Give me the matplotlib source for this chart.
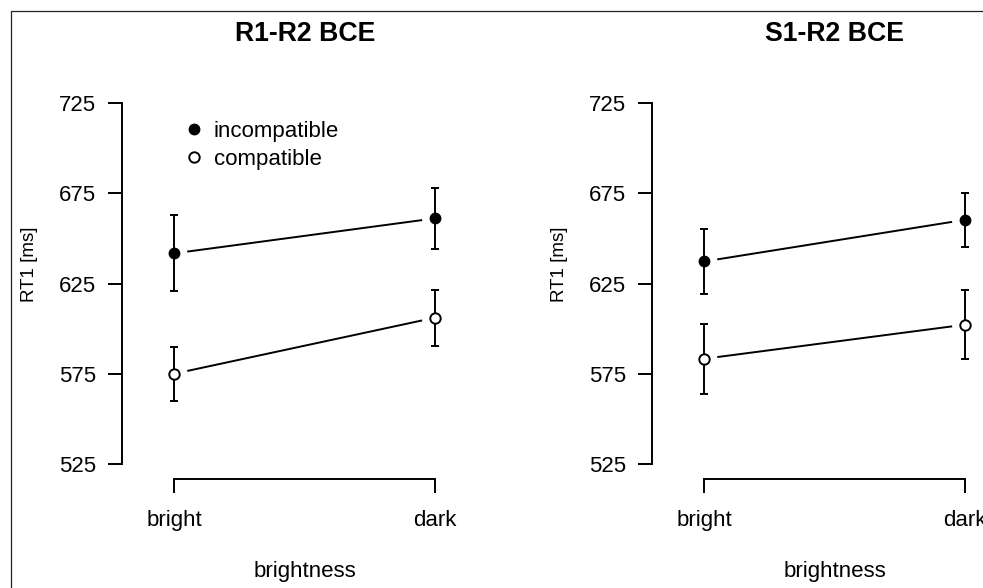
import numpy as np
import matplotlib.pyplot as plt
from matplotlib.lines import Line2D
from matplotlib.patches import Rectangle

plt.rcParams['font.family'] = ['Liberation Sans', 'DejaVu Sans']

levels = ['bright', 'dark']
titles = ['R1-R2 BCE', 'S1-R2 BCE']
yticks = [525, 575, 625, 675, 725]

# mean RT1 and error (half-length of bar), per panel
incomp_mean = [[641.7, 661.1], [637.2, 660.3]]
incomp_err = [[21.0, 17.0], [18.0, 15.0]]
comp_mean = [[575.0, 606.1], [583.3, 602.2]]
comp_err = [[15.0, 15.5], [19.5, 19.0]]

W, H = 983, 588
fig = plt.figure(figsize=(W / 100, H / 100), dpi=100)

# outer frame (partially visible, cropped figure)
fig.patches.append(Rectangle((11 / W, -0.1), 1.2, 1.1 - 11 / H, transform=fig.transFigure,
                             fill=False, edgecolor='#222222', linewidth=0.9))

LW = 1.4
FS = 16
x = np.array([1, 2])


def gap_line(ax, xs, ys, frac=0.05):
    # type="b" style: line stops short of the points
    dx = xs[1] - xs[0]
    dy = ys[1] - ys[0]
    ax.plot([xs[0] + frac * dx, xs[1] - frac * dx], [ys[0] + frac * dy, ys[1] - frac * dy],
            color='black', lw=LW, solid_capstyle='butt')


for i, left_px in enumerate([122, 652]):
    ax_w = 365.4
    bottom_px = 479
    top_px = 60
    ax = fig.add_axes([left_px / W, (H - bottom_px) / H, ax_w / W, (bottom_px - top_px) / H])
    # y scale: 725 at 103px, 525 at 464px
    ppu = (464 - 103) / 200
    ax.set_ylim(525 - (bottom_px - 464) / ppu, 725 + (103 - top_px) / ppu)
    ax.set_xlim(0.8, 2.2)
    ax.patch.set_visible(False)

    for s in ['top', 'right']:
        ax.spines[s].set_visible(False)
    ax.spines['left'].set_bounds(525, 725)
    ax.spines['bottom'].set_bounds(1, 2)
    for s in ['left', 'bottom']:
        ax.spines[s].set_linewidth(LW)

    ax.set_yticks(yticks)
    ax.set_xticks(x)
    ax.set_xticklabels(levels)
    ax.tick_params(axis='y', length=10, width=LW, labelsize=FS, pad=8.5)
    ax.tick_params(axis='x', length=10, width=LW, labelsize=FS, pad=12.5)

    gap_line(ax, x, incomp_mean[i])
    gap_line(ax, x, comp_mean[i])
    ax.errorbar(x, incomp_mean[i], yerr=incomp_err[i], fmt='o', color='black', ms=7.5,
                elinewidth=LW, capsize=2.6, capthick=LW, zorder=3)
    ax.errorbar(x, comp_mean[i], yerr=comp_err[i], fmt='o', color='black', mfc='white',
                mec='black', mew=LW, ms=7.5, elinewidth=LW, capsize=2.6, capthick=LW, zorder=3)

    cx = left_px + ax_w / 2
    fig.text(cx / W, 1 - 34 / H, titles[i], ha='center', va='center', fontsize=19.2,
             fontweight='bold')
    fig.text(cx / W, 1 - 572 / H, 'brightness', ha='center', va='center', fontsize=FS)
    fig.text((left_px - 92) / W, 1 - 264 / H, 'RT1 [ms]', ha='center', va='center',
             fontsize=13.5, rotation=90)

    if i == 0:
        handles = [Line2D([], [], ls='none', marker='o', color='black', ms=7.5),
                   Line2D([], [], ls='none', marker='o', mfc='white', mec='black', mew=LW, ms=7.5)]
        ax.legend(handles, ['incompatible', 'compatible'], loc='upper left', frameon=False,
                  fontsize=FS, handlelength=1.0, handletextpad=0.38, labelspacing=0.31,
                  borderpad=0, borderaxespad=0,
                  bbox_to_anchor=(183.0 / W, 1 - 121 / H), bbox_transform=fig.transFigure)

fig.savefig('out.png', dpi=100)
